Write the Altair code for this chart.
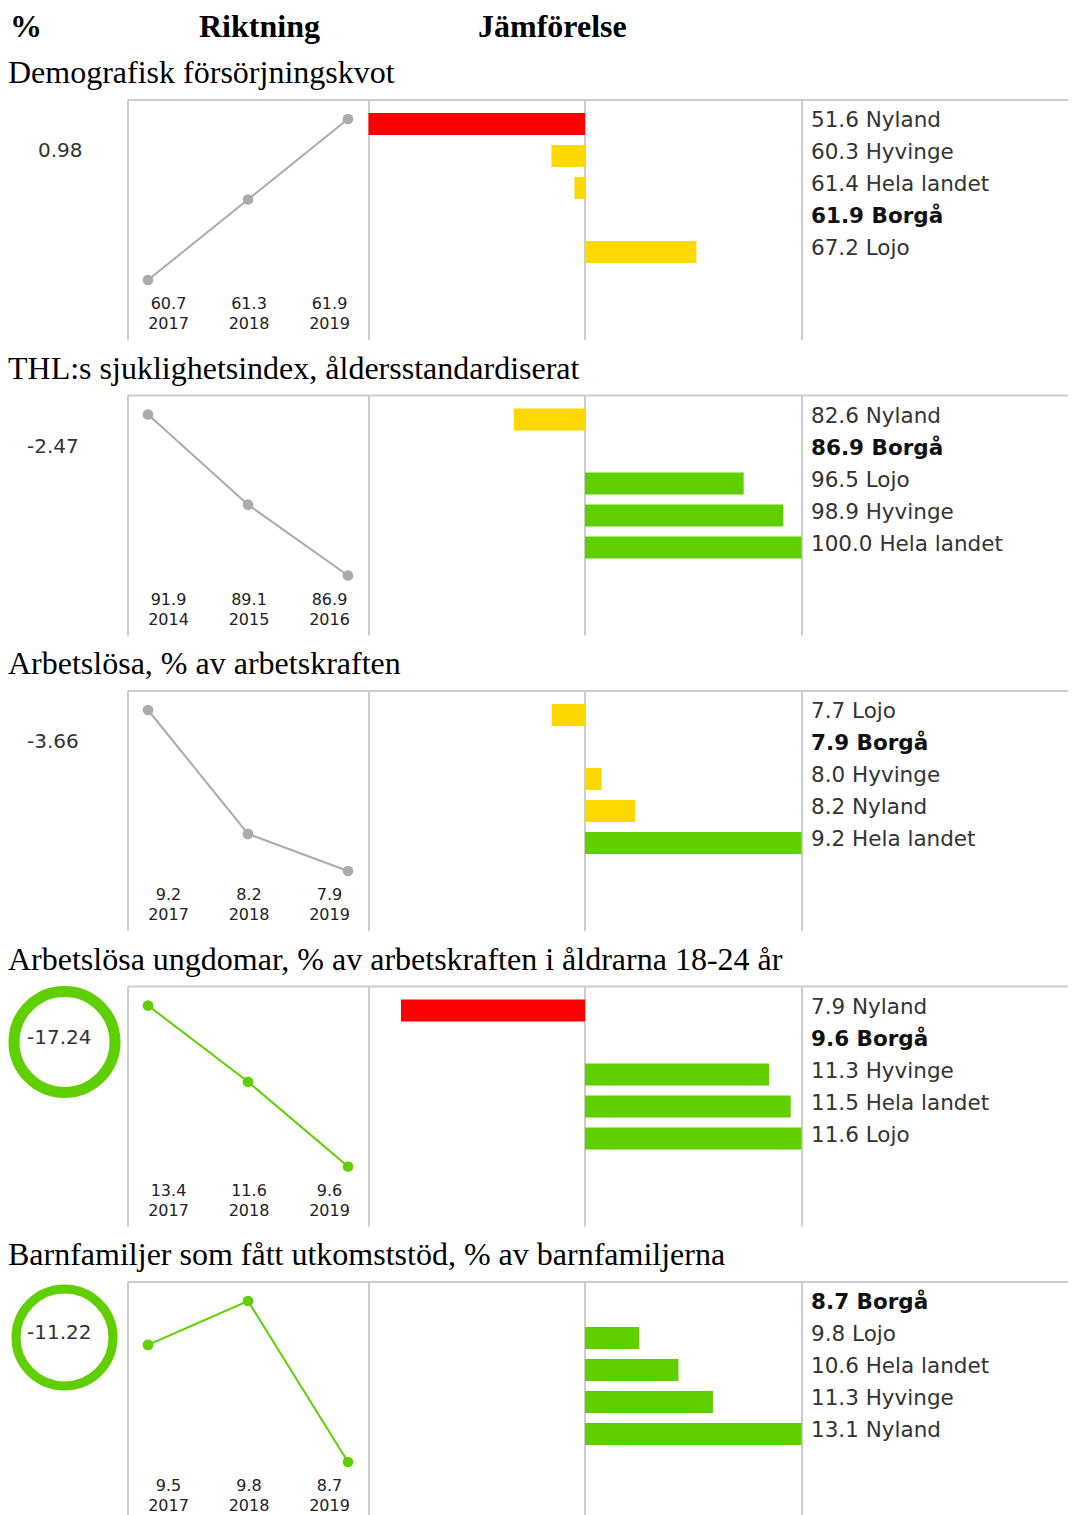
import altair as alt
import pandas as pd

# ---------------- data ----------------
headers = ["%", "Riktning", "Jämförelse"]
titles = [
    "Demografisk försörjningskvot",
    "THL:s sjuklighetsindex, åldersstandardiserat",
    "Arbetslösa, % av arbetskraften",
    "Arbetslösa ungdomar, % av arbetskraften i åldrarna 18-24 år",
    "Barnfamiljer som fått utkomststöd, % av barnfamiljerna",
]
trend = [0.98, -2.47, -3.66, -17.24, -11.22]
trend_flag = [False, False, False, True, True]
years = [
    [2017, 2018, 2019],
    [2014, 2015, 2016],
    [2017, 2018, 2019],
    [2017, 2018, 2019],
    [2017, 2018, 2019],
]
series = [
    [60.7, 61.3, 61.9],
    [91.9, 89.1, 86.9],
    [9.2, 8.2, 7.9],
    [13.4, 11.6, 9.6],
    [9.5, 9.8, 8.7],
]
regions = [
    ["Nyland", "Hyvinge", "Hela landet", "Borgå", "Lojo"],
    ["Nyland", "Borgå", "Lojo", "Hyvinge", "Hela landet"],
    ["Lojo", "Borgå", "Hyvinge", "Nyland", "Hela landet"],
    ["Nyland", "Borgå", "Hyvinge", "Hela landet", "Lojo"],
    ["Borgå", "Lojo", "Hela landet", "Hyvinge", "Nyland"],
]
region_values = [
    [51.6, 60.3, 61.4, 61.9, 67.2],
    [82.6, 86.9, 96.5, 98.9, 100.0],
    [7.7, 7.9, 8.0, 8.2, 9.2],
    [7.9, 9.6, 11.3, 11.5, 11.6],
    [8.7, 9.8, 10.6, 11.3, 13.1],
]
region_status = [
    ["red", "yellow", "yellow", "ref", "yellow"],
    ["yellow", "ref", "green", "green", "green"],
    ["yellow", "ref", "yellow", "yellow", "green"],
    ["red", "ref", "green", "green", "green"],
    ["ref", "green", "green", "green", "green"],
]
home = "Borgå"

# ---------------- style / layout ----------------
RED, YELLOW, GREEN, GRAY = "#ff0000", "#ffd800", "#5fcf00", "#ababab"
BORDER = "#cccccc"
W, H = 1060, 1507
sec_tops = [92, 387.5, 683, 978.5, 1274]  # chart coords of each box top
ring_size = [0, 0, 0, 101, 97]
ring_width = [0, 0, 0, 11, 9]
one = pd.DataFrame({"k": [0]})

layers = []

# column headers
for txt, xpos in zip(headers, [2, 191, 470]):
    layers.append(
        alt.Chart(pd.DataFrame({"t": [txt]}))
        .mark_text(align="left", baseline="alphabetic", font="Liberation Serif",
                   fontSize=32, fontWeight="bold", color="black")
        .encode(x=alt.value(xpos), y=alt.value(29), text="t:N")
    )

for s in range(5):
    T = sec_tops[s]
    # title
    layers.append(
        alt.Chart(pd.DataFrame({"t": [titles[s]]}))
        .mark_text(align="left", baseline="alphabetic", font="Liberation Serif",
                   fontSize=32, color="black")
        .encode(x=alt.value(0), y=alt.value(T - 17), text="t:N")
    )
    # borders
    layers.append(
        alt.Chart(one).mark_rule(color=BORDER, strokeWidth=2)
        .encode(x=alt.value(120), x2=alt.value(W), y=alt.value(T))
    )
    for xv in [120, 361, 577, 794]:
        layers.append(
            alt.Chart(one).mark_rule(color=BORDER, strokeWidth=2)
            .encode(x=alt.value(xv), y=alt.value(T), y2=alt.value(T + 240))
        )
    # trend value + ring
    layers.append(
        alt.Chart(pd.DataFrame({"t": [f"{trend[s]:.2f}"]}))
        .mark_text(align="left", baseline="alphabetic", font="DejaVu Sans",
                   fontSize=20, color="#333333")
        .encode(x=alt.value(30 if trend[s] >= 0 else 19), y=alt.value(T + 57), text="t:N")
    )
    if trend_flag[s]:
        layers.append(
            alt.Chart(one)
            .mark_point(shape="circle", filled=False, size=ring_size[s] ** 2,
                        strokeWidth=ring_width[s], color=GREEN, opacity=1)
            .encode(x=alt.value(56.5), y=alt.value(T + 55.5))
        )
    # trend line
    lc = GREEN if trend_flag[s] else GRAY
    ldf = pd.DataFrame({
        "year": years[s],
        "value": series[s],
        "vl": [f"{v:.1f}" for v in series[s]],
        "yl": [str(y) for y in years[s]],
    })
    xs = alt.Scale(domain=[years[s][0], years[s][-1]], range=[140, 340], padding=0)
    ys = alt.Scale(domain=[min(series[s]), max(series[s])], range=[T + 180, T + 19],
                   zero=False, nice=False, padding=0)
    layers.append(
        alt.Chart(ldf).mark_line(color=lc, strokeWidth=2)
        .encode(x=alt.X("year:Q", scale=xs, axis=None),
                y=alt.Y("value:Q", scale=ys, axis=None))
    )
    layers.append(
        alt.Chart(ldf).mark_point(filled=True, size=115, color=lc, opacity=1)
        .encode(x=alt.X("year:Q", scale=xs, axis=None),
                y=alt.Y("value:Q", scale=ys, axis=None))
    )
    xls = alt.Scale(domain=[years[s][0], years[s][-1]], range=[160.5, 321.5], padding=0)
    for col, dyv in [("vl", 209), ("yl", 229)]:
        layers.append(
            alt.Chart(ldf).mark_text(align="center", baseline="alphabetic",
                                     font="DejaVu Sans", fontSize=16, color="#222222")
            .encode(x=alt.X("year:Q", scale=xls, axis=None),
                    y=alt.value(T + dyv), text=f"{col}:N")
        )
    # comparison bars
    ref = region_values[s][regions[s].index(home)]
    bdf = pd.DataFrame({
        "rank": list(range(5)),
        "region": regions[s],
        "value": region_values[s],
        "status": region_status[s],
    })
    bdf["diff"] = bdf["value"] - ref
    bdf["label"] = [f"{v:.1f} {r}" for v, r in zip(bdf["value"], bdf["region"])]
    m = bdf["diff"].abs().max()
    bx = alt.Scale(domain=[-m, m], range=[360.5, 793.5], padding=0, nice=False, zero=False)
    by = alt.Scale(domain=[0, 4], range=[T + 24, T + 152], padding=0, nice=False, zero=False)
    layers.append(
        alt.Chart(bdf[bdf["status"] != "ref"])
        .mark_bar(size=22, orient="horizontal")
        .encode(x=alt.X("diff:Q", scale=bx, axis=None),
                x2=alt.datum(0),
                y=alt.Y("rank:Q", scale=by, axis=None),
                color=alt.Color("status:N", legend=None,
                                scale=alt.Scale(domain=["red", "yellow", "green"],
                                                range=[RED, YELLOW, GREEN])))
    )
    for bold in [False, True]:
        sub = bdf[(bdf["region"] == home) == bold]
        layers.append(
            alt.Chart(sub)
            .mark_text(align="left", baseline="alphabetic", font="DejaVu Sans",
                       fontSize=21.5, fontWeight="bold" if bold else "normal",
                       color="#111111" if bold else "#333333", dy=3)
            .encode(x=alt.value(803), y=alt.Y("rank:Q", scale=by, axis=None),
                    text="label:N")
        )

chart = (
    alt.layer(*layers)
    .resolve_scale(x="independent", y="independent", color="independent")
    .properties(width=W, height=H, padding=0, background="white",
                autosize=alt.AutoSizeParams(type="none"))
    .configure_view(stroke=None)
)

chart.save("out.html", embed_options={"renderer": "svg", "actions": False})
